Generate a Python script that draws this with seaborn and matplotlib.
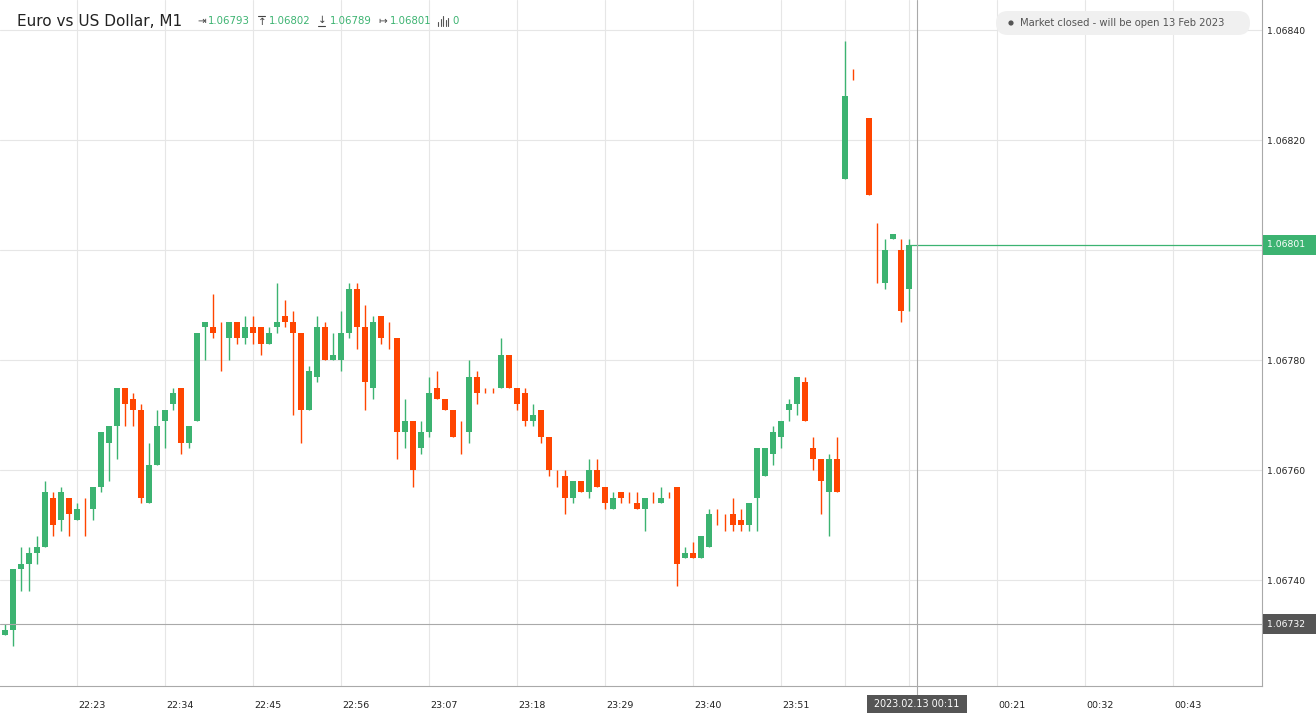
import numpy as np
import pandas as pd
import matplotlib
matplotlib.use("Agg")
import matplotlib.pyplot as plt
import matplotlib.transforms as mtransforms
from matplotlib.patches import Rectangle, FancyBboxPatch, Circle
from matplotlib.lines import Line2D
import seaborn as sns

nan = float("nan")

# ---------------- data (EURUSD, M1) ----------------
open_price = [
    1.06730, 1.06731, 1.06742, 1.06743, 1.06745, 1.06746, 1.06755, 1.06751, 1.06755, 1.06751,
    1.06752, 1.06753, 1.06757, 1.06765, 1.06768, 1.06775, 1.06773, 1.06771, 1.06754, 1.06761,
    1.06769, 1.06772, 1.06775, 1.06765, 1.06769, 1.06786, 1.06786, 1.06785, 1.06784, 1.06787,
    1.06784, 1.06786, 1.06786, 1.06783, 1.06786, 1.06788, 1.06787, 1.06785, 1.06771, 1.06777,
    1.06786, 1.06780, 1.06780, 1.06785, 1.06793, 1.06786, 1.06775, 1.06788, 1.06784, 1.06784,
    1.06767, 1.06769, 1.06764, 1.06767, 1.06775, 1.06773, 1.06771, 1.06766, 1.06767, 1.06777,
    1.06774, 1.06774, 1.06775, 1.06781, 1.06775, 1.06774, 1.06769, 1.06771, 1.06766, 1.06759,
    1.06759, 1.06755, 1.06758, 1.06756, 1.06760, 1.06757, 1.06753, 1.06756, 1.06755, 1.06754,
    1.06753, 1.06755, 1.06754, 1.06755, 1.06757, 1.06744, 1.06745, 1.06744, 1.06746, 1.06752,
    1.06750, 1.06752, 1.06751, 1.06750, 1.06755, 1.06759, 1.06763, 1.06766, 1.06771, 1.06772,
    1.06776, 1.06764, 1.06762, 1.06756, 1.06762, 1.06813, 1.06832, nan, 1.06824, 1.06800,
    1.06794, 1.06802, 1.06800, 1.06793]

high_price = [
    1.06732, 1.06742, 1.06746, 1.06746, 1.06748, 1.06758, 1.06756, 1.06757, 1.06755, 1.06754,
    1.06755, 1.06757, 1.06767, 1.06768, 1.06775, 1.06775, 1.06774, 1.06772, 1.06765, 1.06771,
    1.06771, 1.06775, 1.06775, 1.06768, 1.06785, 1.06787, 1.06792, 1.06787, 1.06787, 1.06787,
    1.06788, 1.06788, 1.06786, 1.06786, 1.06794, 1.06791, 1.06789, 1.06785, 1.06779, 1.06788,
    1.06787, 1.06785, 1.06789, 1.06794, 1.06794, 1.06790, 1.06788, 1.06788, 1.06787, 1.06784,
    1.06773, 1.06769, 1.06769, 1.06777, 1.06778, 1.06773, 1.06771, 1.06769, 1.06780, 1.06778,
    1.06775, 1.06775, 1.06784, 1.06781, 1.06775, 1.06775, 1.06772, 1.06771, 1.06766, 1.06760,
    1.06760, 1.06758, 1.06758, 1.06762, 1.06762, 1.06757, 1.06756, 1.06756, 1.06756, 1.06756,
    1.06755, 1.06756, 1.06757, 1.06756, 1.06757, 1.06746, 1.06747, 1.06748, 1.06753, 1.06753,
    1.06752, 1.06755, 1.06753, 1.06754, 1.06764, 1.06764, 1.06768, 1.06769, 1.06773, 1.06777,
    1.06777, 1.06766, 1.06762, 1.06763, 1.06766, 1.06838, 1.06833, nan, 1.06824, 1.06805,
    1.06802, 1.06803, 1.06802, 1.06802]

low_price = [
    1.06730, 1.06728, 1.06738, 1.06738, 1.06743, 1.06746, 1.06748, 1.06749, 1.06748, 1.06751,
    1.06748, 1.06751, 1.06756, 1.06758, 1.06762, 1.06768, 1.06768, 1.06754, 1.06754, 1.06761,
    1.06764, 1.06771, 1.06763, 1.06764, 1.06769, 1.06780, 1.06784, 1.06778, 1.06780, 1.06783,
    1.06783, 1.06783, 1.06781, 1.06783, 1.06785, 1.06786, 1.06770, 1.06765, 1.06771, 1.06776,
    1.06780, 1.06780, 1.06778, 1.06784, 1.06782, 1.06771, 1.06773, 1.06783, 1.06782, 1.06762,
    1.06764, 1.06757, 1.06763, 1.06766, 1.06773, 1.06771, 1.06766, 1.06763, 1.06765, 1.06772,
    1.06774, 1.06774, 1.06775, 1.06775, 1.06771, 1.06768, 1.06768, 1.06765, 1.06759, 1.06757,
    1.06752, 1.06754, 1.06756, 1.06755, 1.06757, 1.06753, 1.06753, 1.06754, 1.06754, 1.06753,
    1.06749, 1.06754, 1.06754, 1.06755, 1.06739, 1.06744, 1.06744, 1.06744, 1.06746, 1.06750,
    1.06749, 1.06749, 1.06749, 1.06749, 1.06749, 1.06759, 1.06761, 1.06764, 1.06769, 1.06770,
    1.06769, 1.06760, 1.06752, 1.06748, 1.06756, 1.06813, 1.06831, nan, 1.06810, 1.06794,
    1.06793, 1.06802, 1.06787, 1.06789]

close_price = [
    1.06731, 1.06742, 1.06743, 1.06745, 1.06746, 1.06756, 1.06750, 1.06756, 1.06752, 1.06753,
    1.06752, 1.06757, 1.06767, 1.06768, 1.06775, 1.06772, 1.06771, 1.06755, 1.06761, 1.06768,
    1.06771, 1.06774, 1.06765, 1.06768, 1.06785, 1.06787, 1.06785, 1.06785, 1.06787, 1.06784,
    1.06786, 1.06785, 1.06783, 1.06785, 1.06787, 1.06787, 1.06785, 1.06771, 1.06778, 1.06786,
    1.06780, 1.06781, 1.06785, 1.06793, 1.06786, 1.06776, 1.06787, 1.06784, 1.06784, 1.06767,
    1.06769, 1.06760, 1.06767, 1.06774, 1.06773, 1.06771, 1.06766, 1.06766, 1.06777, 1.06774,
    1.06774, 1.06774, 1.06781, 1.06775, 1.06772, 1.06769, 1.06770, 1.06766, 1.06760, 1.06759,
    1.06755, 1.06758, 1.06756, 1.06760, 1.06757, 1.06754, 1.06755, 1.06755, 1.06755, 1.06753,
    1.06755, 1.06755, 1.06755, 1.06755, 1.06743, 1.06745, 1.06744, 1.06748, 1.06752, 1.06752,
    1.06750, 1.06750, 1.06750, 1.06754, 1.06764, 1.06764, 1.06767, 1.06769, 1.06772, 1.06777,
    1.06769, 1.06762, 1.06758, 1.06762, 1.06756, 1.06828, 1.06832, nan, 1.06810, 1.06800,
    1.06800, 1.06803, 1.06789, 1.06801]

tick_bars = [9, 20, 31, 42, 53, 64, 75, 86, 97, 105, 113, 124, 135, 146]
tick_labels = ["22:23", "22:34", "22:45", "22:56", "23:07", "23:18", "23:29",
               "23:40", "23:51", "", "", "00:21", "00:32", "00:43"]
price_ticks = [1.06740, 1.06760, 1.06780, 1.06800, 1.06820, 1.06840]

crosshair_bar = 114
crosshair_time = "2023.02.13 00:11"
crosshair_price = 1.06732
symbol_title = "Euro vs US Dollar, M1"
header_volume = "0"
market_note = "Market closed - will be open 13 Feb 2023"

# ---------------- styling ----------------
sns.set_theme(style="white")
plt.rcParams["font.family"] = ["DejaVu Sans"]

GREEN = "#3cb371"
RED = "#ff4500"
GRID = "#e6e6e6"
AXC = "#a9a9a9"
BOXC = "#555555"
TXT = "#222222"
ICON = "#444444"

W, H = 1316, 721
fig = plt.figure(figsize=(W / 100, H / 100), dpi=100)
fig.patch.set_facecolor("white")
ax = fig.add_axes([0, 35 / H, 1262 / W, 686 / H])
ax.set_facecolor("white")

df = pd.DataFrame({"open": open_price, "high": high_price,
                   "low": low_price, "close": close_price})
df["bar"] = np.arange(len(df))
df = df.dropna()
df["color"] = np.where(df["close"] > df["open"], GREEN, RED)
df["body_lo"] = df[["open", "close"]].min(axis=1)
df["body_h"] = (df["close"] - df["open"]).abs()

ax.vlines(df["bar"], df["low"], df["high"], colors=df["color"], linewidth=1.0,
          zorder=3)
ax.bar(df["bar"], df["body_h"], bottom=df["body_lo"], width=0.72,
       color=df["color"], linewidth=0, zorder=4)

xmin, xmax = -0.625, 157.125
ax.set_xlim(xmin, xmax)
ax.set_ylim(1.0672078, 1.0684551)

# grid & spines
ax.set_xticks(tick_bars)
ax.set_xticklabels(tick_labels)
ax.set_yticks(price_ticks)
ax.yaxis.set_major_formatter(matplotlib.ticker.FormatStrFormatter("%.5f"))
ax.yaxis.tick_right()
ax.grid(True, color=GRID, linewidth=0.8, zorder=0)
ax.set_axisbelow(True)
for s in ["top", "left"]:
    ax.spines[s].set_visible(False)
for s in ["right", "bottom"]:
    ax.spines[s].set_visible(True)
    ax.spines[s].set_color(AXC)
    ax.spines[s].set_linewidth(0.8)
ax.tick_params(axis="x", length=0, pad=10.5, labelsize=6.8, labelcolor=TXT)
ax.tick_params(axis="y", length=0, pad=3.8, labelsize=6.7, labelcolor=TXT)
offset = mtransforms.ScaledTranslation(1 / 100, 0, fig.dpi_scale_trans)
for lab in ax.get_xticklabels():
    lab.set_horizontalalignment("left")
    lab.set_transform(lab.get_transform() + offset)

# last price line
last = df.iloc[-1]
ax.hlines(last["close"], last["bar"], xmax, color=GREEN, linewidth=0.9, zorder=5)

# crosshair
ax.axvline(crosshair_bar, ymin=-10 / 686, ymax=1, color=AXC, linewidth=0.8,
           zorder=6, clip_on=False)
ax.axhline(crosshair_price, xmin=0, xmax=1.0, color=AXC, linewidth=0.8, zorder=6)

fig.canvas.draw()
pix = mtransforms.IdentityTransform()


def ypx(price):
    return ax.transData.transform((0, price))[1]


def xpx(bar):
    return ax.transData.transform((bar, 0))[0]


# price boxes on the right axis
for price, col in [(last["close"], GREEN), (crosshair_price, BOXC)]:
    yc = ypx(price)
    fig.patches.append(Rectangle((1263, yc - 10), 53, 20, transform=pix,
                                 facecolor=col, edgecolor="none", zorder=10))
    fig.text(1267, yc, f"{price:.5f}", transform=pix, color="white",
             fontsize=6.7, va="center", ha="left", zorder=11)

# crosshair time box
xc = xpx(crosshair_bar)
fig.patches.append(Rectangle((xc - 50, 8), 100, 18, transform=pix,
                             facecolor=BOXC, edgecolor="none", zorder=10))
fig.text(xc, 17, crosshair_time, transform=pix, color="white", fontsize=6.9,
         va="center", ha="center", zorder=11)

# header
hy = H - 21
fig.text(17, hy, symbol_title, transform=pix, fontsize=11, color=TXT,
         va="center", ha="left", zorder=12)
o, h, l, c = open_price[-1], high_price[-1], low_price[-1], close_price[-1]
values = [(f"{o:.5f}", 208), (f"{h:.5f}", 269), (f"{l:.5f}", 330), (f"{c:.5f}", 390)]
for val, vx in values:
    fig.text(vx, hy, val, transform=pix, fontsize=7.3, color=GREEN,
             va="center", ha="left", zorder=12)

# header icons: open, high (arrow up to bar), low (arrow down to bar), close
fig.text(197, hy, "\u21e5", transform=pix, fontsize=7.5, color=ICON,
         va="center", ha="left", zorder=12)
fig.text(258, hy - 1, "\u2191", transform=pix, fontsize=7.5, color=ICON,
         va="center", ha="left", zorder=12)
fig.add_artist(Line2D([258, 265], [hy + 5, hy + 5], transform=pix, color=ICON,
                      linewidth=0.8))
fig.text(318, hy + 1, "\u2193", transform=pix, fontsize=7.5, color=ICON,
         va="center", ha="left", zorder=12)
fig.add_artist(Line2D([318, 325], [hy - 5, hy - 5], transform=pix, color=ICON,
                      linewidth=0.8))
fig.text(378, hy, "\u21a6", transform=pix, fontsize=7.5, color=ICON,
         va="center", ha="left", zorder=12)
for bx, bh in zip([438, 440.5, 443, 445.5, 448], [4, 7, 10, 6, 8]):
    fig.add_artist(Line2D([bx, bx], [H - 26, H - 26 + bh], transform=pix,
                          color="#555555", linewidth=0.8))
fig.text(452, hy, header_volume, transform=pix, fontsize=7.3, color=GREEN,
         va="center", ha="left", zorder=12)

# market closed badge
fig.patches.append(FancyBboxPatch((996, H - 35), 254, 24, transform=pix,
                                  boxstyle="round,pad=0,rounding_size=12",
                                  facecolor="#f0f0f0", edgecolor="none", zorder=10))
fig.patches.append(Circle((1011, H - 23), 2.6, transform=pix,
                          facecolor="#555555", edgecolor="none", zorder=11))
fig.text(1020, H - 23, market_note, transform=pix, fontsize=7.2, color="#555555",
         va="center", ha="left", zorder=12)

fig.savefig("out.png", dpi=100, facecolor="white")
